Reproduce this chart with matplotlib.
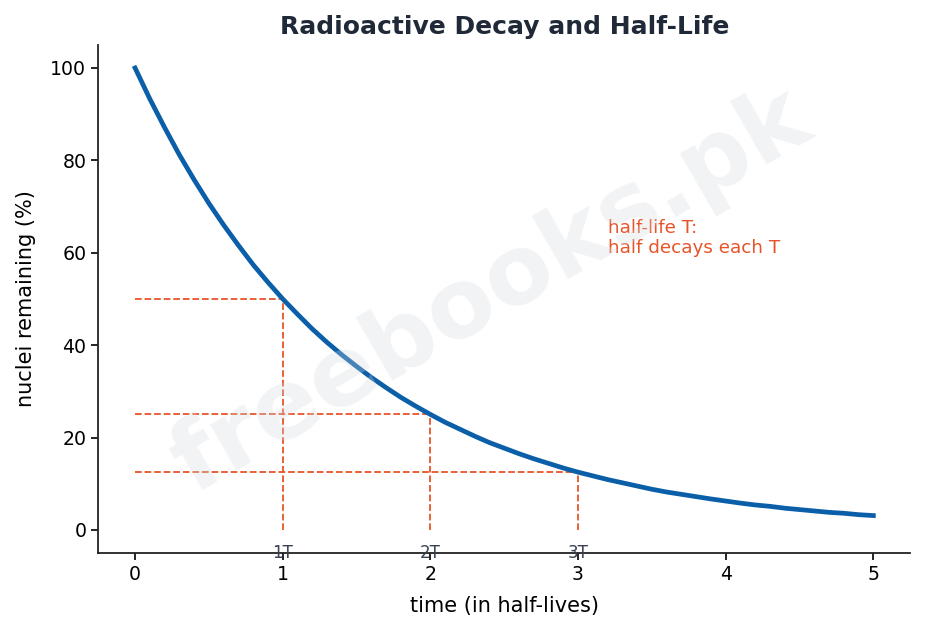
import matplotlib.pyplot as plt

# nuclei remaining, every tenth of a half-life
t_values = [0.0, 0.1, 0.2, 0.3, 0.4, 0.5, 0.6, 0.7, 0.8, 0.9,
            1.0, 1.1, 1.2, 1.3, 1.4, 1.5, 1.6, 1.7, 1.8, 1.9,
            2.0, 2.1, 2.2, 2.3, 2.4, 2.5, 2.6, 2.7, 2.8, 2.9,
            3.0, 3.1, 3.2, 3.3, 3.4, 3.5, 3.6, 3.7, 3.8, 3.9,
            4.0, 4.1, 4.2, 4.3, 4.4, 4.5, 4.6, 4.7, 4.8, 4.9, 5.0]
remaining = [100, 93.3, 87.1, 81.2, 75.8, 70.7, 66.0, 61.6, 57.4, 53.6,
             50, 46.7, 43.5, 40.6, 37.9, 35.4, 33.0, 30.8, 28.7, 26.8,
             25, 23.3, 21.8, 20.3, 18.9, 17.7, 16.5, 15.4, 14.4, 13.4,
             12.5, 11.7, 10.9, 10.2, 9.5, 8.8, 8.2, 7.7, 7.2, 6.7,
             6.25, 5.8, 5.4, 5.1, 4.7, 4.4, 4.1, 3.8, 3.6, 3.3, 3.1]

# half-life markers
marker_t = [1, 2, 3]
marker_n = [50, 25, 12.5]
marker_labels = ['1T', '2T', '3T']

blue = '#0a5fa8'
orange = '#e8542a'

fig, ax = plt.subplots(figsize=(9.26, 6.32), dpi=100)

fig.text(0.53, 0.538, 'freebooks.pk', fontsize=70, fontweight='bold', color='#d5d9e0',
         alpha=0.3, rotation=30, ha='center', va='center', zorder=0)

ax.plot(t_values, remaining, color=blue, linewidth=3.4, zorder=3)

for t, n, lab in zip(marker_t, marker_n, marker_labels):
    ax.plot([0, t], [n, n], color=orange, linestyle='--', linewidth=1.3, zorder=2)
    ax.plot([t, t], [0, n], color=orange, linestyle='--', linewidth=1.3, zorder=2)
    ax.text(t, -3, lab, ha='center', va='top', fontsize=12, color='#374151')

ax.text(3.2, 59, 'half-life T:\nhalf decays each T', color=orange, fontsize=13.2,
        ha='left', va='bottom')

ax.set_title('Radioactive Decay and Half-Life', fontsize=18, fontweight='bold',
             color='#1f2937', pad=8)
ax.set_xlabel('time (in half-lives)', fontsize=15, labelpad=9)
ax.set_ylabel('nuclei remaining (%)', fontsize=15, labelpad=10)
ax.tick_params(labelsize=13.6, length=5, width=1.2)
for s in ['top', 'right']:
    ax.spines[s].set_visible(False)
for s in ['left', 'bottom']:
    ax.spines[s].set_color('#222222')
    ax.spines[s].set_linewidth(1.3)

plt.subplots_adjust(left=0.106, right=0.983, top=0.929, bottom=0.125)
plt.savefig('out.png')
